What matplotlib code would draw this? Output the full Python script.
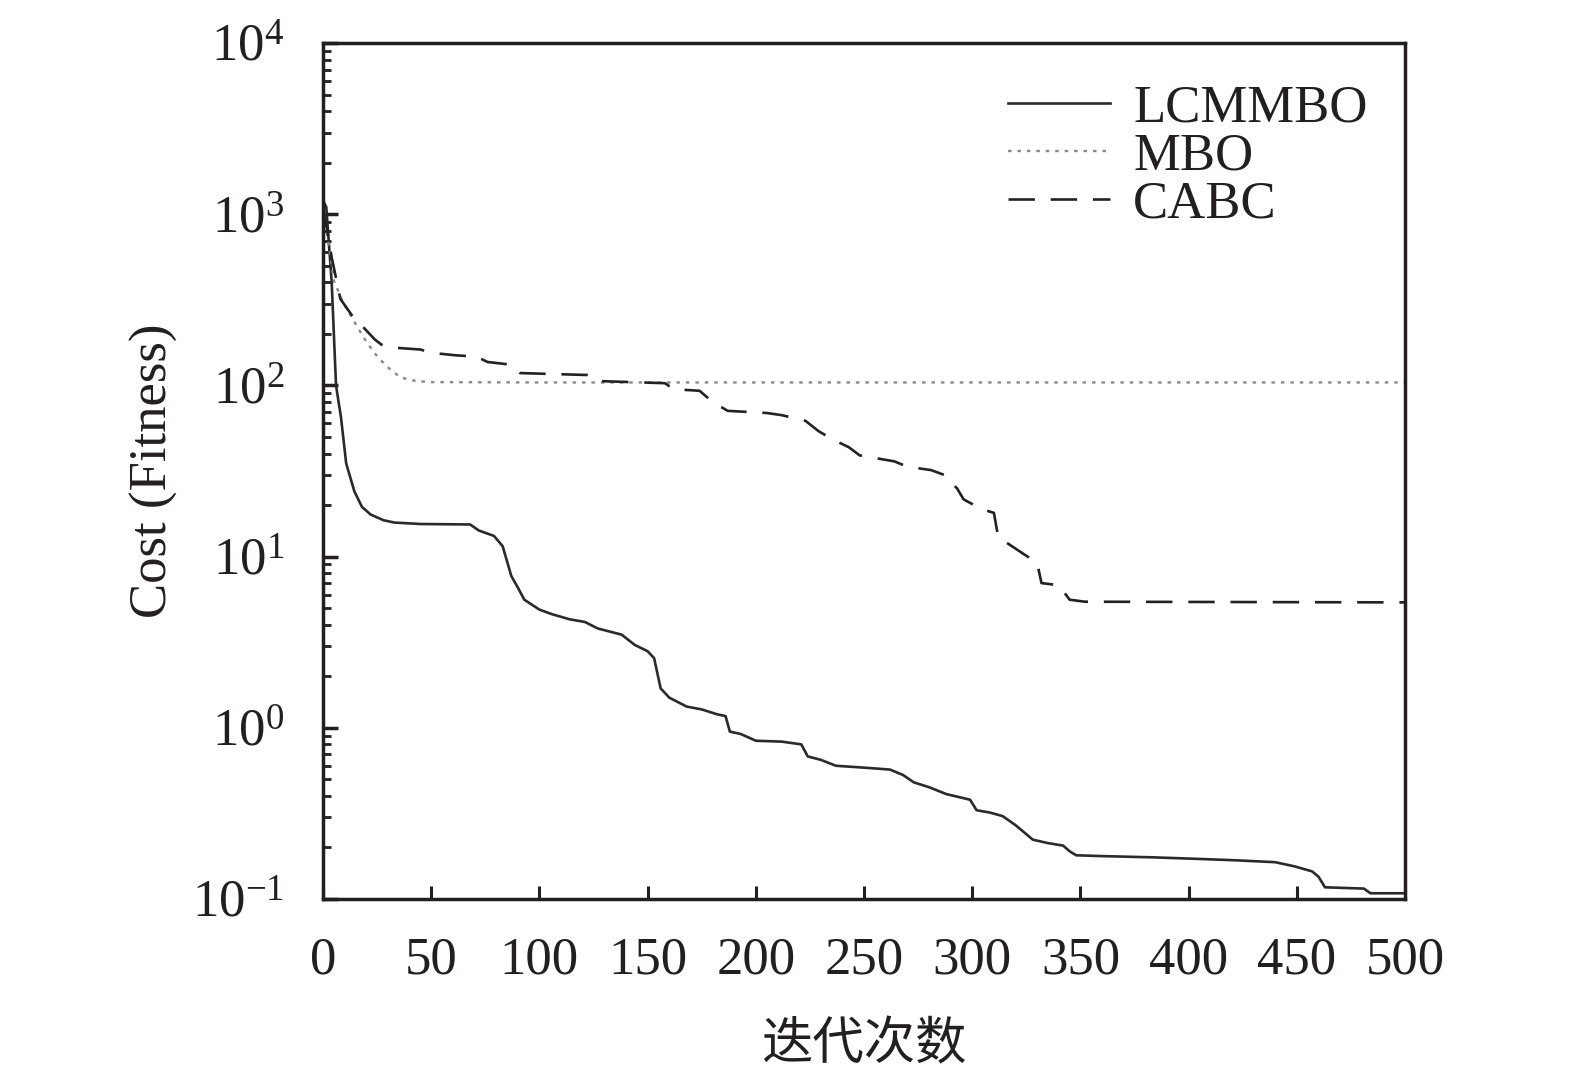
import numpy as np
import matplotlib
matplotlib.use('Agg')
import matplotlib.pyplot as plt

plt.rcParams['font.family'] = ['Liberation Serif', 'Noto Sans CJK SC']
plt.rcParams['mathtext.fontset'] = 'custom'
plt.rcParams['mathtext.rm'] = 'Liberation Serif'
plt.rcParams['mathtext.it'] = 'Liberation Serif:italic'
plt.rcParams['axes.unicode_minus'] = True

# convergence curves (iteration, cost)
lcm_it = [0, 1.5, 4, 6, 8.3, 10.7, 14.5, 18, 22, 28, 33, 45, 68, 72, 79, 83, 87, 90, 93,
          100, 106, 114, 121, 127, 138, 144, 150, 153, 156, 160, 168, 175, 182, 186, 188,
          193, 200, 212, 221, 224, 230, 237, 250, 262, 268, 273, 280, 288, 299, 302, 308,
          314, 320, 328, 335, 342, 345, 348, 360, 384, 407, 423, 440, 449, 457, 460, 463,
          481, 484, 500]
lcm_cost = [1200, 1100, 400, 100, 65, 35, 24, 19.5, 17.6, 16.3, 15.8, 15.5, 15.4, 14.2, 13.2,
            11.5, 7.7, 6.6, 5.6, 4.9, 4.6, 4.3, 4.15, 3.8, 3.5, 3.05, 2.8, 2.55, 1.7, 1.5,
            1.33, 1.28, 1.2, 1.17, 0.95, 0.92, 0.84, 0.83, 0.80, 0.68, 0.65, 0.60, 0.585,
            0.57, 0.53, 0.48, 0.45, 0.41, 0.38, 0.33, 0.32, 0.305, 0.27, 0.222, 0.212, 0.205,
            0.19, 0.18, 0.178, 0.175, 0.171, 0.168, 0.164, 0.155, 0.145, 0.135, 0.117, 0.115,
            0.108, 0.108]

mbo_it = [0, 2, 5, 9, 14, 20, 25.5, 31, 36, 43, 50, 100, 500]
mbo_cost = [1000, 750, 410, 310, 240, 180, 145, 124, 111, 106, 104.5, 104, 104]

cabc_it = [0, 2, 4, 8, 13, 19, 24, 27, 30, 45, 50, 61, 71, 76, 87, 91, 122, 127, 158, 162,
           174, 180, 187, 205, 212, 223, 229, 236, 243, 248, 264, 270, 281, 287, 293, 296,
           304, 310, 312, 323, 330, 332, 340, 345, 352, 500]
cabc_cost = [1050, 800, 560, 320, 260, 216, 185, 173, 167, 162, 155, 150, 147, 137, 132, 118,
             115, 106, 103, 95, 93, 80, 71, 69, 67, 62, 54, 48, 43.5, 39, 36, 33.5, 32, 30,
             25, 21.6, 19, 18, 13, 10.5, 9.2, 7, 6.8, 5.6, 5.45, 5.4]

fig = plt.figure(figsize=(15.75, 10.72), dpi=100)
ax = fig.add_axes([0.2051, 0.1614, 0.687, 0.7985])

ax.plot(lcm_it, lcm_cost, color='#2a2a2a', lw=1.9, label='LCMMBO')
ax.plot(mbo_it, mbo_cost, color='#8a8a8a', lw=1.7, dashes=(1.5, 2.5), label='MBO')
ax.plot(cabc_it, cabc_cost, color='#222222', lw=1.9, dashes=(10, 6), label='CABC')

ax.set_yscale('log')
ax.set_xlim(0, 500)
ax.set_ylim(0.1, 1e4)
ax.set_xticks(np.arange(0, 501, 50))

for s in ax.spines.values():
    s.set_linewidth(2.5)
    s.set_color('#231f20')

ax.tick_params(axis='both', which='both', direction='in', top=False, right=False,
               color='#231f20', labelsize=38, labelcolor='#231f20')
ax.tick_params(axis='x', which='major', length=9.5, width=2.2, pad=27)
ax.tick_params(axis='y', which='major', length=11, width=2.5, pad=28)
ax.tick_params(axis='y', which='minor', length=6, width=2.0)
ax.tick_params(axis='x', which='minor', bottom=False)

ax.set_ylabel('Cost (Fitness)', fontsize=38, color='#231f20', labelpad=10)
ax.set_xlabel('迭代次数', fontsize=37, family=['Noto Sans CJK SC'], color='#231f20',
              labelpad=24)

ax.legend(loc='upper left', bbox_to_anchor=(0.633, 0.952), frameon=False, fontsize=38,
          handlelength=1.93, handletextpad=0.44, labelspacing=0.0, borderpad=0,
          borderaxespad=0, labelcolor='#231f20')

fig.savefig('out.png', dpi=100)
